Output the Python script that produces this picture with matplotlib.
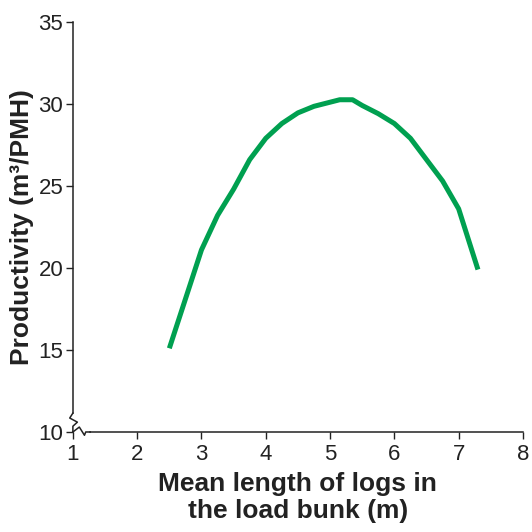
import numpy as np
import matplotlib
matplotlib.use("Agg")
import matplotlib.pyplot as plt
import matplotlib.transforms as mtransforms

# values
log_length = [2.5, 2.75, 3.0, 3.25, 3.5, 3.75, 4.0, 4.25, 4.5, 4.75, 5.0, 5.15,
              5.35, 5.5, 5.75, 6.0, 6.25, 6.5, 6.75, 7.0, 7.3]
productivity = [15.1, 18.1, 21.1, 23.2, 24.8, 26.6, 27.9, 28.8, 29.45, 29.85,
                30.1, 30.25, 30.25, 29.9, 29.4, 28.8, 27.9, 26.6, 25.3, 23.6, 19.9]
xticks = [1, 2, 3, 4, 5, 6, 7, 8]
yticks = [10, 15, 20, 25, 30, 35]

fig = plt.figure(figsize=(5.32, 5.32), dpi=100)
ax = fig.add_axes([0.137, 0.188, 0.846, 0.771])

ax.plot(log_length, productivity, color="#00a050", lw=3.6, solid_capstyle="butt")

ax.set_xlim(1, 8)
ax.set_ylim(10, 35)
ax.set_xticks(xticks)
ax.set_yticks(yticks)
ax.set_xticklabels([str(v) for v in xticks], fontfamily="Liberation Sans", fontsize=16)
ax.set_yticklabels([str(v) for v in yticks], fontfamily="Liberation Sans", fontsize=16)
ax.tick_params(direction="out", length=5, width=1, color="#222222", pad=2,
               labelcolor="#222222")
ax.tick_params(axis="x", pad=4)

for s in ["top", "right"]:
    ax.spines[s].set_visible(False)
ax.spines["left"].set_bounds(11.15, 35)
ax.spines["bottom"].set_bounds(1.27, 8)
for s in ["left", "bottom"]:
    ax.spines[s].set_linewidth(1.1)
    ax.spines[s].set_color("#222222")

# axis break zigzags
tr_y = mtransforms.blended_transform_factory(ax.transAxes, ax.transData)
ax.plot([0, -0.007, 0.010, 0.0, 0.0], [11.15, 10.85, 10.6, 10.35, 10.0],
        color="#222222", lw=1.1, transform=tr_y, clip_on=False)
ax.plot([1.0, 1.1, 1.18, 1.2, 1.27], [10.0, 10.3, 9.8, 10.0, 10.0],
        color="#222222", lw=1.1, clip_on=False)

ax.set_xlabel("Mean length of logs in\nthe load bunk (m)", fontfamily="Liberation Sans",
              fontweight="bold", fontsize=19, linespacing=1.15, labelpad=5,
              color="#222222")
ax.set_ylabel("Productivity (m³/PMH)", fontfamily="Liberation Sans",
              fontweight="bold", fontsize=19, labelpad=3, color="#222222")

fig.savefig("out.png", dpi=100)
